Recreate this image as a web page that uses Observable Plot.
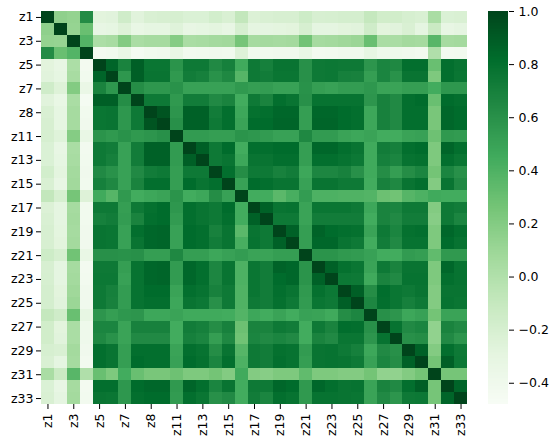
<!DOCTYPE html>
<html>
<head>
<meta charset="utf-8">
<script src="https://cdn.jsdelivr.net/npm/d3@7"></script>
<script src="https://cdn.jsdelivr.net/npm/@observablehq/plot@0.6"></script>
<style>
html,body{margin:0;padding:0;background:#fff;color:#000}
#wrap{position:relative;width:550px;height:442px;overflow:hidden}
#wrap svg{position:absolute;top:0}
</style>
</head>
<body>
<div id="wrap"></div>
<script>
const names = ["z1","z2","z3","z4","z5","z6","z7","z9","z8","z10","z11","z12","z13","z14","z15","z16","z17","z18","z19","z20","z21","z22","z23","z24","z25","z26","z27","z28","z29","z30","z31","z32","z33"];
const tickNames = ["z1","z3","z5","z7","z8","z11","z13","z15","z17","z19","z21","z23","z25","z27","z29","z31","z33"];
const cbTicks = [1,0.8,0.6,0.4,0.2,0,-0.2,-0.4];
const vMin = -0.48, vMax = 1;
const greens = ["#f7fcf5","#e5f5e0","#c7e9c0","#a1d99b","#74c476","#41ab5d","#238b45","#006d2c","#00441b"];

// upper triangle of the correlation matrix, each row starts at its diagonal
const r1 = [1,.15,.13,.63,-.28,-.27,-.16,-.27,-.22,-.21,-.2,-.23,-.23,-.18,-.22,-.09,-.24,-.22,-.21,-.21,-.15,-.21,-.2,-.19,-.19,-.1,-.17,-.17,-.2,-.22,.03,-.23,-.22];
const r2 = [1,.12,.3,-.33,-.31,-.25,-.34,-.31,-.31,-.26,-.33,-.31,-.29,-.33,-.2,-.3,-.3,-.29,-.28,-.2,-.3,-.3,-.28,-.27,-.16,-.28,-.27,-.22,-.3,-.13,-.33,-.3];
const r3 = [1,.38,.02,.04,.2,.03,.05,.05,.19,.03,.04,.06,.07,.25,.05,.06,.05,.06,.27,.05,.06,.08,.1,.3,.03,.03,.06,.05,.36,.05,.06];
const r4 = [1,-.44,-.42,-.35,-.45,-.42,-.41,-.34,-.43,-.42,-.41,-.42,-.25,-.42,-.42,-.41,-.41,-.34,-.44,-.43,-.41,-.41,-.32,-.39,-.39,-.41,-.43,.0,-.44,-.43];
const r5 = [1,.85,.68,.88,.76,.76,.58,.74,.74,.64,.7,.45,.74,.7,.77,.77,.6,.74,.75,.74,.74,.57,.67,.65,.8,.8,.3,.8,.77];
const r6 = [1,.56,.88,.77,.77,.55,.72,.7,.59,.65,.37,.74,.72,.76,.76,.6,.74,.75,.7,.69,.52,.67,.59,.77,.77,.22,.8,.76];
const r7 = [1,.62,.56,.56,.59,.5,.5,.5,.5,.55,.52,.53,.5,.5,.59,.52,.5,.53,.53,.56,.49,.49,.52,.52,.44,.56,.56];
const r9 = [1,.74,.74,.55,.72,.72,.64,.68,.44,.74,.68,.8,.77,.6,.78,.78,.78,.78,.57,.69,.64,.8,.82,.3,.82,.8];
const r8 = [1,.93,.57,.87,.87,.72,.8,.47,.79,.8,.84,.84,.52,.84,.84,.82,.8,.47,.69,.64,.8,.8,.24,.84,.82];
const r10 = [1,.6,.87,.87,.74,.8,.49,.82,.82,.85,.85,.52,.85,.85,.82,.8,.47,.69,.64,.8,.8,.24,.84,.82];
const r11 = [1,.54,.54,.52,.52,.58,.56,.54,.5,.5,.65,.54,.54,.49,.47,.49,.44,.44,.49,.5,.28,.55,.54];
const r12 = [1,.88,.74,.82,.44,.8,.8,.82,.82,.52,.84,.84,.8,.77,.45,.72,.7,.8,.82,.22,.85,.8];
const r13 = [1,.74,.77,.47,.77,.77,.8,.8,.52,.8,.8,.78,.75,.45,.7,.67,.78,.79,.22,.8,.76];
const r14 = [1,.8,.62,.74,.74,.69,.72,.47,.66,.66,.69,.6,.45,.62,.52,.62,.67,.26,.67,.6];
const r15 = [1,.5,.82,.8,.77,.77,.5,.77,.77,.74,.74,.44,.69,.65,.77,.8,.2,.77,.64];
const r16 = [1,.44,.44,.35,.42,.53,.4,.4,.39,.39,.38,.29,.27,.37,.4,.45,.44,.44];
const r17 = [1,.87,.77,.78,.49,.76,.76,.76,.74,.47,.68,.67,.74,.74,.2,.74,.72];
const r18 = [1,.74,.74,.49,.72,.72,.72,.72,.44,.68,.64,.72,.72,.18,.74,.67];
const r19 = [1,.87,.52,.86,.82,.8,.79,.49,.74,.67,.79,.8,.22,.84,.8];
const r20 = [1,.52,.84,.84,.77,.74,.44,.72,.64,.78,.78,.22,.82,.78];
const r21 = [1,.58,.58,.55,.54,.5,.44,.44,.54,.52,.33,.55,.55];
const r22 = [1,.87,.79,.76,.49,.74,.68,.77,.77,.22,.84,.78];
const r23 = [1,.75,.74,.45,.68,.64,.78,.78,.22,.8,.78];
const r24 = [1,.88,.62,.81,.76,.74,.77,.2,.77,.77];
const r25 = [1,.66,.8,.76,.7,.74,.2,.78,.76];
const r26 = [1,.6,.57,.47,.5,.26,.49,.49];
const r27 = [1,.78,.64,.67,.14,.68,.64];
const r28 = [1,.6,.62,.14,.64,.57];
const r29 = [1,.87,.2,.8,.74];
const r30 = [1,.26,.88,.75];
const r31 = [1,.25,.25];
const r32 = [1,.85];
const r33 = [1];
const upper = [r1,r2,r3,r4,r5,r6,r7,r9,r8,r10,r11,r12,r13,r14,r15,r16,r17,r18,r19,r20,r21,r22,r23,r24,r25,r26,r27,r28,r29,r30,r31,r32,r33];

const cells = [];
upper.forEach((row, i) => row.forEach((v, k) => {
  const j = i + k;
  cells.push({a: names[i], b: names[j], v});
  if (j !== i) cells.push({a: names[j], b: names[i], v});
}));

const colorOpt = {
  type: "linear",
  domain: greens.map((_, i) => vMin + (vMax - vMin) * i / (greens.length - 1)),
  range: greens,
  clamp: true
};
const font = {fontFamily: "'DejaVu Sans', sans-serif", fontSize: "12.5px", background: "transparent"};

const heat = Plot.plot({
  width: 470, height: 442,
  marginLeft: 41, marginRight: 3, marginTop: 11, marginBottom: 38,
  style: font,
  x: {domain: names, padding: 0, round: false, label: null},
  y: {domain: names, padding: 0, round: false, label: null},
  color: colorOpt,
  marks: [
    Plot.cell(cells, {x: "a", y: "b", fill: "v", shapeRendering: "crispEdges"}),
    Plot.axisX(tickNames, {anchor: "bottom", tickRotate: -90, tickSize: 5, tickPadding: 4, label: null, fontSize: 12.5}),
    Plot.axisY(tickNames, {anchor: "left", tickSize: 5, tickPadding: 3, label: null, fontSize: 12.5})
  ]
});
heat.style.left = "0px";

const nSteps = 256;
const ramp = d3.range(nSteps).map(i => vMin + (vMax - vMin) * i / nSteps);
const stepH = (vMax - vMin) / nSteps;
const bar = Plot.plot({
  width: 80, height: 442,
  marginLeft: 18, marginRight: 42, marginTop: 11, marginBottom: 38,
  style: font,
  x: {domain: [0, 1], axis: null},
  y: {domain: [vMin, vMax], label: null},
  color: colorOpt,
  marks: [
    Plot.rect(ramp, {x1: 0, x2: 1, y1: d => d, y2: d => d + stepH, fill: d => d, shapeRendering: "crispEdges"}),
    Plot.axisY(cbTicks, {anchor: "right", tickSize: 5, tickPadding: 5, label: null, fontSize: 12.5, tickFormat: d3.format(".1f")})
  ]
});
bar.style.left = "470px";

const wrap = document.getElementById("wrap");
wrap.append(heat, bar);
</script>
</body>
</html>
